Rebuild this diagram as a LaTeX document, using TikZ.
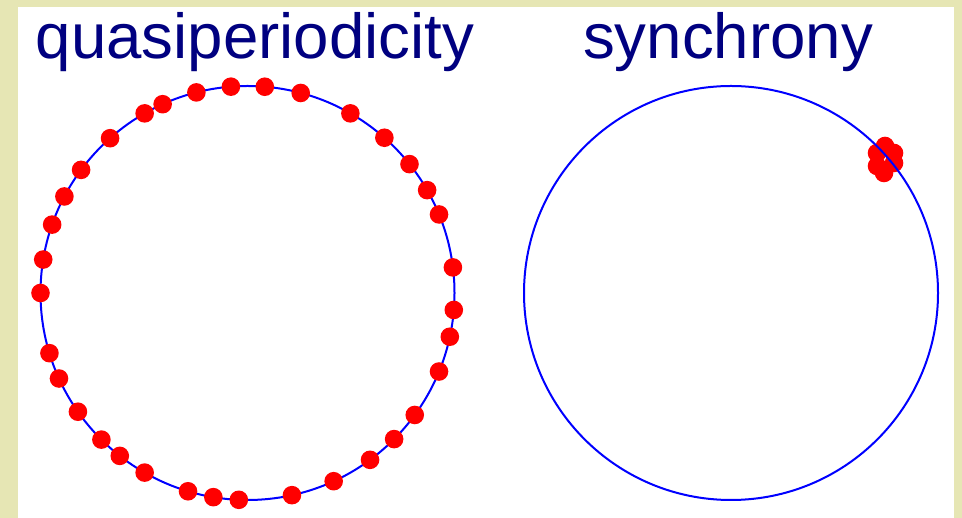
\documentclass[tikz,border=0pt]{standalone}
\usepackage{fontspec}
\setmainfont{Liberation Sans}
\usepackage{tikz}
\definecolor{navyblue}{RGB}{0,0,128}
\definecolor{paper}{RGB}{230,230,180}

\begin{document}
\begin{tikzpicture}[x=0.5pt, y=0.5pt,
    orbit/.style={draw=blue, line width=1pt},
    osc/.style={fill=red},
    title/.style={anchor=base, text=navyblue, font=\fontsize{31.8}{36}\selectfont}]
        % fondo y dos orbitas
        \fill[paper] (0,0) rectangle (962,518);
        \fill[white] (18,0) rectangle (954,511);
        \useasboundingbox (0,0) rectangle (962,518);
        \coordinate (qc) at (247.5,225);
        \coordinate (sc) at (731,225);
        \node[title] (qtitle) at (255,459) {quasiperiodicity};
        \node[title] (stitle) at (728,459) {synchrony};
        
        \draw[orbit] (qc) circle (207);
        \foreach \a in {94.6,85.2,75.1,60.2,48.6,38.5,29.8,22.3,7.1,-4.7,-12.2,-22.3,-36.1,-44.9,-53.7,-65.4,-77.6,267.6,260.5,253.3,240.2,231.9,225.1,215.0,204.4,196.9,180,170.7,160.7,152.2,143.5,131.6,119.8,114.2,104.3}
            \fill[osc] (qc) ++(\a:207) circle (9.3);
        
        \foreach \p in {(885,372),(877,365),(894,365),(877,352),(894,355),(884,345)}
            \fill[osc] \p circle (9.3);
        \draw[orbit] (sc) circle (207);
    \end{tikzpicture}
\end{document}
